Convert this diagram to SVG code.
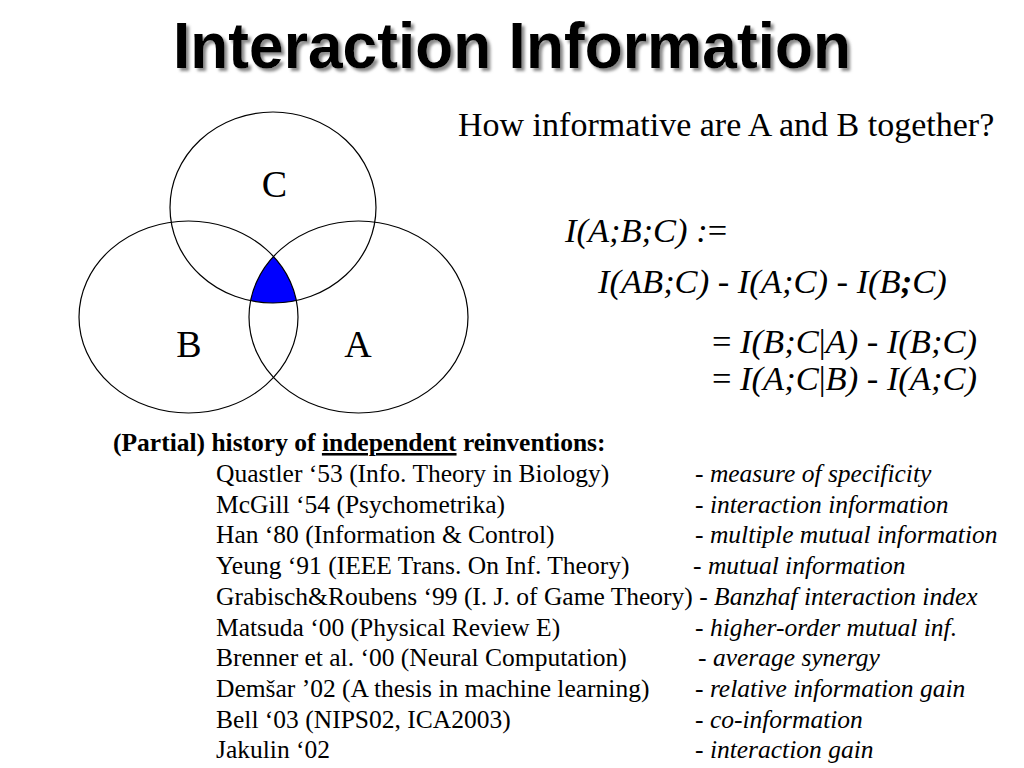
<svg xmlns="http://www.w3.org/2000/svg" width="1024" height="768" viewBox="0 0 1024 768">
<style>
.title{font-family:"Liberation Sans",Arial,Helvetica,sans-serif;font-weight:bold;font-size:64px}
.serif{font-family:"Liberation Serif","Times New Roman",serif}
.q{font-size:34px}
.venn{font-size:38px}
.f{font-size:34.5px;font-style:italic}
.up{font-style:normal}
.list{font-size:25.5px}
.hdr{font-size:25.5px;font-weight:bold}
.it{font-style:italic}
.ring{fill:none;stroke:#000;stroke-width:1.2}
</style>
<defs>
<filter id="shadow" x="-5%" y="-20%" width="110%" height="150%">
<feOffset in="SourceAlpha" dx="3" dy="3" result="off"/>
<feGaussianBlur in="off" stdDeviation="1.6" result="blur"/>
<feFlood flood-color="#8a8a8a"/>
<feComposite in2="blur" operator="in" result="sh"/>
<feMerge><feMergeNode in="sh"/><feMergeNode in="SourceGraphic"/></feMerge>
</filter>
<clipPath id="clipA"><ellipse cx="358.5" cy="317" rx="109.5" ry="96"/></clipPath>
<clipPath id="clipB"><ellipse cx="188.5" cy="317" rx="109.5" ry="96"/></clipPath>
</defs>
<rect width="1024" height="768" fill="#fff"/>
<g id="title">
<text class="title" x="173" y="68" fill="#000" filter="url(#shadow)" textLength="678" lengthAdjust="spacingAndGlyphs">Interaction Information</text>
</g>
<g id="venn">
<g id="triple-overlap" clip-path="url(#clipB)">
<ellipse cx="273" cy="207.5" rx="103" ry="95.5" fill="#0000ff" clip-path="url(#clipA)"/>
</g>
<g id="circle-C"><ellipse class="ring" cx="273" cy="207.5" rx="103" ry="95.5"/>
<text class="serif venn" x="274.5" y="197" text-anchor="middle">C</text></g>
<g id="circle-B"><ellipse class="ring" cx="188.5" cy="317" rx="109.5" ry="96"/>
<text class="serif venn" x="189" y="357" text-anchor="middle">B</text></g>
<g id="circle-A"><ellipse class="ring" cx="358.5" cy="317" rx="109.5" ry="96"/>
<text class="serif venn" x="358" y="357" text-anchor="middle">A</text></g>
</g>
<g id="question"><text class="serif q" x="458" y="136">How informative are A and B together?</text></g>
<g id="formulas" class="serif">
<text class="f" x="565" y="242">I(A;B;C) :<tspan class="up">=</tspan></text>
<text class="f" x="598" y="293">I(AB;C) - I(A;C) - I(B<tspan font-weight="bold">;</tspan>C)</text>
<text class="f" x="712" y="353"><tspan class="up">=</tspan> I(B;C<tspan class="up">|</tspan>A) - I(B;C)</text>
<text class="f" x="712" y="390"><tspan class="up">=</tspan> I(A;C<tspan class="up">|</tspan>B) - I(A;C)</text>
</g>
<g id="history" class="serif">
<text class="hdr" x="113" y="451">(Partial) history of <tspan text-decoration="underline">independent</tspan> reinventions:</text>
<text class="list" x="216" y="482">Quastler ‘53 (Info. Theory in Biology)</text>
<text class="list" x="695" y="482">- <tspan class="it">measure of specificity</tspan></text>
<text class="list" x="216" y="512.7">McGill ‘54 (Psychometrika)</text>
<text class="list" x="695" y="512.7">- <tspan class="it">interaction information</tspan></text>
<text class="list" x="216" y="543.4">Han ‘80 (Information &amp; Control)</text>
<text class="list" x="695" y="543.4">- <tspan class="it">multiple mutual information</tspan></text>
<text class="list" x="216" y="574.1">Yeung ‘91 (IEEE Trans. On Inf. Theory)</text>
<text class="list" x="693" y="574.1">- <tspan class="it">mutual information</tspan></text>
<text class="list" x="216" y="604.8">Grabisch&amp;Roubens ‘99 (I. J. of Game Theory) - <tspan class="it">Banzhaf interaction index</tspan></text>
<text class="list" x="216" y="635.5">Matsuda ‘00 (Physical Review E)</text>
<text class="list" x="695" y="635.5">- <tspan class="it">higher-order mutual inf.</tspan></text>
<text class="list" x="216" y="666.2">Brenner et al. ‘00 (Neural Computation)</text>
<text class="list" x="698" y="666.2">- <tspan class="it">average synergy</tspan></text>
<text class="list" x="216" y="696.9">Demšar ’02 (A thesis in machine learning)</text>
<text class="list" x="695" y="696.9">- <tspan class="it">relative information gain</tspan></text>
<text class="list" x="216" y="727.6">Bell ‘03 (NIPS02, ICA2003)</text>
<text class="list" x="695" y="727.6">- <tspan class="it">co-information</tspan></text>
<text class="list" x="216" y="758.3">Jakulin ‘02</text>
<text class="list" x="695" y="758.3">- <tspan class="it">interaction gain</tspan></text>
</g>
</svg>
